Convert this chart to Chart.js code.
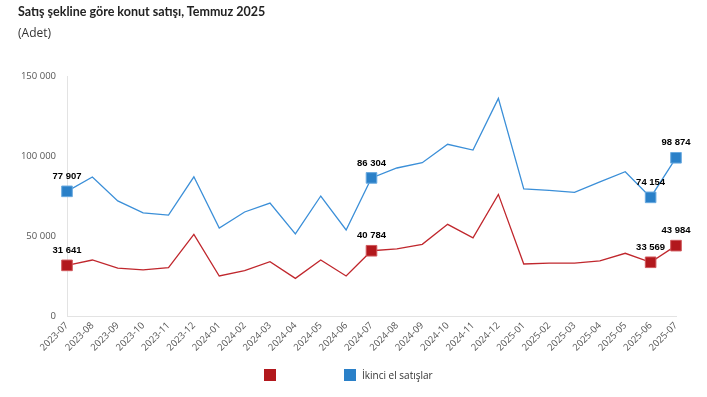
<!DOCTYPE html>
<html lang="tr">
<head>
<meta charset="UTF-8">
<title>Satış şekline göre konut satışı</title>
<script src="https://cdn.jsdelivr.net/npm/chart.js"></script>
<style>
  body { margin: 0; background: #fff; font-family: "Open Sans", sans-serif; }
  #wrap { position: relative; width: 707px; height: 397px; }
  #title { position: absolute; left: 18px; top: 4px; font-family: Lato, sans-serif; font-size: 12.5px; font-weight: bold; color: #222; }
  #unit { position: absolute; left: 18px; top: 24px; font-size: 12px; color: #333; }
  canvas { position: absolute; left: 0; top: 0; }
  .lg { position: absolute; top: 369px; height: 13px; font-size: 10px; line-height: 12px; color: #333; white-space: nowrap; }
  .lg i { display: inline-block; width: 12px; height: 12px; vertical-align: top; margin-right: 6px; }
</style>
</head>
<body>
<div id="wrap">
  <canvas id="chart" width="707" height="397"></canvas>
  <div id="title">Satış şekline göre konut satışı, Temmuz 2025</div>
  <div id="unit">(Adet)</div>
  <div class="lg" id="lg0" style="left:264px"><i></i><span></span></div>
  <div class="lg" id="lg1" style="left:344px"><i></i><span></span></div>
</div>
<script>
// ay etiketleri
const months = ['2023-07','2023-08','2023-09','2023-10','2023-11','2023-12',
  '2024-01','2024-02','2024-03','2024-04','2024-05','2024-06',
  '2024-07','2024-08','2024-09','2024-10','2024-11','2024-12',
  '2025-01','2025-02','2025-03','2025-04','2025-05','2025-06','2025-07'];

// ilk satışlar (etiketsiz seri)
const firstSales = [31641, 35000, 29900, 28800, 30200, 51000,
  25000, 28300, 33900, 23500, 35000, 25000,
  40784, 41900, 44800, 57300, 48900, 76000,
  32500, 33100, 33100, 34400, 39200, 33569, 43984];

// ikinci el satışlar
const secondHand = [77907, 86900, 71900, 64400, 63100, 87000,
  55000, 65000, 70600, 51300, 75000, 53800,
  86304, 92500, 95800, 107300, 103700, 136000,
  79400, 78500, 77300, 83800, 90200, 74154, 98874];

const seriesNames = ['', 'İkinci el satışlar'];
const seriesColors = ['#b2181d', '#2a80c8'];
const labeledIdx = [0, 12, 23, 24];
const yTicks = [0, 50000, 100000, 150000];

function fmt(v) {
  return String(v).replace(/\B(?=(\d{3})+(?!\d))/g, ' ');
}

function radii() {
  return months.map((m, i) => labeledIdx.includes(i) ? 7.5 : 0);
}

// lejant (html)
seriesNames.forEach((n, i) => {
  const el = document.getElementById('lg' + i);
  el.querySelector('i').style.background = seriesColors[i];
  el.querySelector('span').textContent = n;
});

// seçili noktaların üstüne değer yaz
const valueLabels = {
  id: 'valueLabels',
  afterDatasetsDraw(chart) {
    const ctx = chart.ctx;
    ctx.save();
    ctx.font = 'bold 9.5px "Liberation Sans", Arial, sans-serif';
    ctx.fillStyle = '#000';
    ctx.textAlign = 'center';
    ctx.textBaseline = 'middle';
    chart.data.datasets.forEach((ds, di) => {
      const meta = chart.getDatasetMeta(di);
      labeledIdx.forEach(i => {
        const p = meta.data[i];
        ctx.fillText(fmt(ds.data[i]), p.x, p.y - 15);
      });
    });
    ctx.restore();
  }
};

new Chart(document.getElementById('chart'), {
  type: 'line',
  data: {
    labels: months,
    datasets: [
      {
        label: seriesNames[0],
        data: firstSales,
        borderColor: '#c0272d',
        backgroundColor: seriesColors[0],
        pointBorderColor: '#d0585c',
        borderWidth: 1.3,
        pointStyle: 'rect',
        pointRadius: radii(),
        pointBorderWidth: 1,
        tension: 0
      },
      {
        label: seriesNames[1],
        data: secondHand,
        borderColor: '#3b8fd8',
        backgroundColor: seriesColors[1],
        pointBorderColor: '#6aaae0',
        borderWidth: 1.3,
        pointStyle: 'rect',
        pointRadius: radii(),
        pointBorderWidth: 1,
        tension: 0
      }
    ]
  },
  options: {
    responsive: false,
    animation: false,
    events: [],
    layout: { padding: { top: 76, right: 31, left: 0, bottom: 37 } },
    scales: {
      x: {
        offset: false,
        grid: { display: false, drawTicks: false },
        border: { color: '#e3e3e3' },
        ticks: {
          minRotation: 45, maxRotation: 45, padding: 4,
          color: '#555', font: { family: '"Open Sans", sans-serif', size: 9.5 }
        },
        afterFit(s) { s.height = 44; }
      },
      y: {
        min: 0, max: 150000,
        afterBuildTicks(s) { s.ticks = yTicks.map(v => ({ value: v })); },
        grid: { display: false, drawTicks: false },
        border: { color: '#e3e3e3' },
        ticks: {
          padding: 11, color: '#555',
          font: { family: '"Open Sans", sans-serif', size: 9.5 },
          callback: v => fmt(v)
        },
        afterFit(s) { s.width = 67; }
      }
    },
    plugins: {
      tooltip: { enabled: false },
      legend: { display: false }
    }
  },
  plugins: [valueLabels]
});
</script>
</body>
</html>
